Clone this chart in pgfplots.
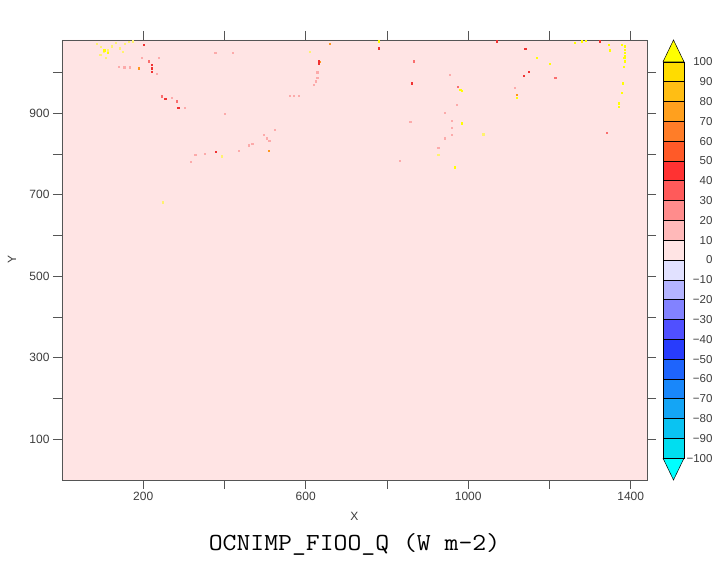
\documentclass[border=0pt]{standalone}
\usepackage{pgfplots}
\pgfplotsset{compat=1.18}
\usepackage{fontspec}
\setmainfont{Liberation Sans}
\newfontfamily\monof[FakeStretch=1.1]{Latin Modern Mono}
\definecolor{axgray}{RGB}{85,85,85}
\definecolor{labgray}{RGB}{60,60,60}
\definecolor{bgpink}{RGB}{255,228,228}
\definecolor{clo}{RGB}{0,255,255}
\definecolor{b1}{RGB}{0,222,240}
\definecolor{b2}{RGB}{10,195,242}
\definecolor{b3}{RGB}{20,165,245}
\definecolor{b4}{RGB}{25,135,250}
\definecolor{b5}{RGB}{30,100,252}
\definecolor{b6}{RGB}{40,60,252}
\definecolor{b7}{RGB}{80,80,255}
\definecolor{b8}{RGB}{130,130,255}
\definecolor{b9}{RGB}{180,180,255}
\definecolor{b10}{RGB}{225,225,255}
\definecolor{b11}{RGB}{255,228,228}
\definecolor{b12}{RGB}{255,185,185}
\definecolor{b13}{RGB}{255,140,140}
\definecolor{b14}{RGB}{255,90,90}
\definecolor{b15}{RGB}{255,50,50}
\definecolor{b16}{RGB}{255,90,40}
\definecolor{b17}{RGB}{255,125,40}
\definecolor{b18}{RGB}{255,160,30}
\definecolor{b19}{RGB}{255,190,20}
\definecolor{b20}{RGB}{255,220,0}
\definecolor{chi}{RGB}{255,255,0}
\definecolor{dyel}{RGB}{255,255,0}
\definecolor{dlyel}{RGB}{255,242,110}
\definecolor{dorg}{RGB}{255,150,30}
\definecolor{dred}{RGB}{240,50,50}
\definecolor{dpred}{RGB}{250,110,110}
\definecolor{dpnk}{RGB}{252,170,170}
\begin{document}
\begin{tikzpicture}
\useasboundingbox (-62pt,-97pt) rectangle (654pt,480pt);
\begin{axis}[
  at={(0pt,0pt)}, anchor=south west,
  scale only axis, width=585pt, height=440pt,
  xmin=0, xmax=1440, ymin=0, ymax=1080,
  axis on top,
  xtick={200,400,...,1400}, xticklabels={200,,600,,1000,,1400},
  ytick={100,200,...,1000}, yticklabels={100,,300,,500,,700,,900,},
  tick align=outside, major tick length=9pt,
  tick style={color=axgray, line width=0.8pt},
  axis line style={axgray, line width=0.8pt},
  /pgf/number format/assume math mode=true,
  tick label style={font=\fontsize{12}{12}\selectfont, text=labgray},
  xlabel={X}, ylabel={Y},
  xlabel style={at={(axis description cs:0.5,-0.0818)}, anchor=center, font=\fontsize{12}{12}\selectfont, text=labgray},
  ylabel style={at={(axis description cs:-0.0855,0.5)}, anchor=center, font=\fontsize{12}{12}\selectfont, text=labgray},
  title={OCNIMP\_FIOO\_Q (W m-2)},
  title style={at={(axis description cs:0.5,-0.159)}, anchor=center, font=\monof\fontsize{24.5}{24.5}\selectfont, text=black},
]
\addplot[draw=none, fill=bgpink] coordinates {(0,0)(1440,0)(1440,1080)(0,1080)(0,0)};
\addplot[only marks, mark=square*, mark size=0.6pt, color=dlyel] coordinates {
(86,1070)(96,1063)(103,1051)(113,1055)(123,1065)(133,1073)(143,1060)(155,1070)(165,1075)(175,1077)(94,1043)(108,1036)(150,1051)(247,682)(394,795)(926,798)(1037,849)(610,1052)};
\addplot[only marks, mark=square*, mark size=0.6pt, color=dyel] coordinates {
(1386,1065)(1386,1057)(1386,1049)(1386,1041)(1386,1028)(1384,1036)(1279,1077)(1263,1073)(1378,1068)(1382,1015)(1380,974)(1378,950)(1371,925)(1371,917)(1119,938)(980,958)(984,955)(1168,1036)(1201,1021)(1345,1068)(1349,1055)(984,876)(967,768)(779,1077)(1290,1079)(104,1055)(112,1048)};
\addplot[only marks, mark=square*, mark size=0.6pt, color=dorg] coordinates {
(189,1011)(658,1070)(635,1026)(508,808)(1119,946)};
\addplot[only marks, mark=square*, mark size=0.6pt, color=dred] coordinates {
(220,1019)(220,1011)(220,1003)(201,1068)(254,936)(286,914)(379,805)(631,1028)(631,1021)(779,1060)(861,974)(1137,993)(1148,1003)(1140,1059)(1324,1077)(1070,1077)};
\addplot[only marks, mark=square*, mark size=0.6pt, color=dpred] coordinates {
(213,1028)(865,1028)(975,966)(1214,987)(1341,852)(246,942)(283,930)};
\addplot[only marks, mark=square*, mark size=0.6pt, color=dpnk] coordinates {
(140,1015)(153,1013)(167,1013)(197,1036)(234,998)(238,1036)(271,939)(302,914)(316,782)(328,798)(351,800)(435,808)(460,822)(468,825)(377,1048)(420,1048)(628,1001)(628,988)(625,979)(619,970)(561,944)(571,944)(582,944)(496,848)(504,839)(510,832)(524,860)(467,825)(926,815)(943,839)(832,784)(857,880)(1115,962)(955,995)(959,881)(959,864)(959,848)(943,901)(971,921)(400,900)};
\end{axis}
\begin{axis}[
  at={(601pt,0pt)}, anchor=south west,
  scale only axis, width=21pt, height=440pt,
  xmin=0, xmax=1, ymin=-111, ymax=111,
  clip=false,
  axis line style={draw=none},
  xtick=\empty,
  ytick={-100,-90,...,100},
  yticklabels={−100,−90,−80,−70,−60,−50,−40,−30,−20,−10,0,10,20,30,40,50,60,70,80,90,100},
  yticklabel pos=right, major tick length=0pt,
  y tick label style={font=\fontsize{11.5}{11.5}\selectfont, text=labgray, anchor=east, xshift=32pt},
]
\addplot[fill=clo, draw=black, line width=0.5pt] coordinates {(0,-100)(1,-100)(0.5,-111)(0,-100)};
\addplot[fill=b1, draw=black, line width=0.5pt] coordinates {(0,-100)(1,-100)(1,-90)(0,-90)(0,-100)};
\addplot[fill=b2, draw=black, line width=0.5pt] coordinates {(0,-90)(1,-90)(1,-80)(0,-80)(0,-90)};
\addplot[fill=b3, draw=black, line width=0.5pt] coordinates {(0,-80)(1,-80)(1,-70)(0,-70)(0,-80)};
\addplot[fill=b4, draw=black, line width=0.5pt] coordinates {(0,-70)(1,-70)(1,-60)(0,-60)(0,-70)};
\addplot[fill=b5, draw=black, line width=0.5pt] coordinates {(0,-60)(1,-60)(1,-50)(0,-50)(0,-60)};
\addplot[fill=b6, draw=black, line width=0.5pt] coordinates {(0,-50)(1,-50)(1,-40)(0,-40)(0,-50)};
\addplot[fill=b7, draw=black, line width=0.5pt] coordinates {(0,-40)(1,-40)(1,-30)(0,-30)(0,-40)};
\addplot[fill=b8, draw=black, line width=0.5pt] coordinates {(0,-30)(1,-30)(1,-20)(0,-20)(0,-30)};
\addplot[fill=b9, draw=black, line width=0.5pt] coordinates {(0,-20)(1,-20)(1,-10)(0,-10)(0,-20)};
\addplot[fill=b10, draw=black, line width=0.5pt] coordinates {(0,-10)(1,-10)(1,0)(0,0)(0,-10)};
\addplot[fill=b11, draw=black, line width=0.5pt] coordinates {(0,0)(1,0)(1,10)(0,10)(0,0)};
\addplot[fill=b12, draw=black, line width=0.5pt] coordinates {(0,10)(1,10)(1,20)(0,20)(0,10)};
\addplot[fill=b13, draw=black, line width=0.5pt] coordinates {(0,20)(1,20)(1,30)(0,30)(0,20)};
\addplot[fill=b14, draw=black, line width=0.5pt] coordinates {(0,30)(1,30)(1,40)(0,40)(0,30)};
\addplot[fill=b15, draw=black, line width=0.5pt] coordinates {(0,40)(1,40)(1,50)(0,50)(0,40)};
\addplot[fill=b16, draw=black, line width=0.5pt] coordinates {(0,50)(1,50)(1,60)(0,60)(0,50)};
\addplot[fill=b17, draw=black, line width=0.5pt] coordinates {(0,60)(1,60)(1,70)(0,70)(0,60)};
\addplot[fill=b18, draw=black, line width=0.5pt] coordinates {(0,70)(1,70)(1,80)(0,80)(0,70)};
\addplot[fill=b19, draw=black, line width=0.5pt] coordinates {(0,80)(1,80)(1,90)(0,90)(0,80)};
\addplot[fill=b20, draw=black, line width=0.5pt] coordinates {(0,90)(1,90)(1,100)(0,100)(0,90)};
\addplot[fill=chi, draw=black, line width=0.5pt] coordinates {(0,100)(1,100)(0.5,111)(0,100)};
\end{axis}
\end{tikzpicture}
\end{document}
